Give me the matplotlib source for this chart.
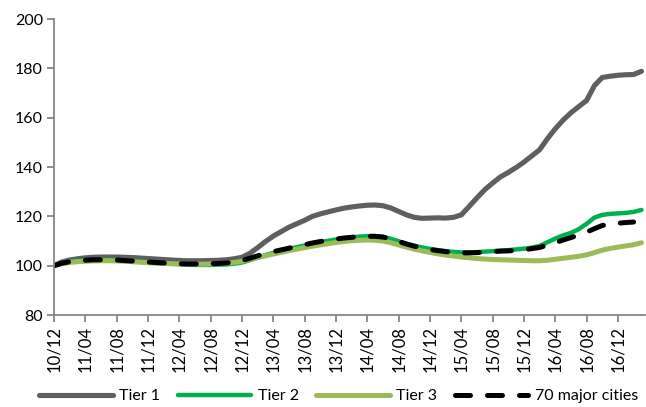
import matplotlib.pyplot as plt

# monthly index values, 2010/12 = 100, running through 2017/03
tier1 = [100.0, 101.5, 102.3, 102.8, 103.2, 103.4, 103.5, 103.5, 103.5, 103.4,
         103.3, 103.1, 102.9, 102.7, 102.5, 102.3, 102.1, 102.0, 102.0, 102.0,
         102.1, 102.2, 102.4, 102.8, 103.4, 105.0, 107.3, 109.8, 112.0, 113.8,
         115.6, 117.0, 118.4, 120.0, 121.0, 121.8, 122.6, 123.3, 123.8, 124.2,
         124.5, 124.6, 124.3, 123.4, 122.0, 120.6, 119.6, 119.2, 119.3, 119.4,
         119.3, 119.6, 120.6, 124.0, 127.5, 130.8, 133.5, 136.0, 137.8, 139.8,
         142.0, 144.5, 147.0, 151.5, 155.5, 159.0, 162.0, 164.5, 167.0, 173.0,
         176.3, 176.8, 177.2, 177.4, 177.5, 178.8]
tier2 = [100.0, 101.0, 101.6, 102.0, 102.2, 102.3, 102.3, 102.3, 102.2, 102.0,
         101.8, 101.6, 101.4, 101.2, 101.0, 100.8, 100.6, 100.4, 100.3, 100.3,
         100.3, 100.4, 100.5, 100.8, 101.3, 102.2, 103.3, 104.3, 105.2, 106.0,
         106.8, 107.5, 108.2, 108.9, 109.5, 110.1, 110.6, 111.1, 111.5, 111.8,
         112.0, 112.0, 111.7, 110.9, 109.9, 108.9, 108.1, 107.4, 106.8, 106.3,
         105.9, 105.6, 105.4, 105.4, 105.5, 105.7, 105.9, 106.1, 106.3, 106.6,
         106.9, 107.3, 108.0, 109.5, 111.0, 112.3, 113.3, 114.8, 117.0, 119.5,
         120.6, 121.0, 121.2, 121.4, 121.8, 122.6]
tier3 = [100.0, 100.8, 101.3, 101.6, 101.8, 101.9, 102.0, 102.0, 101.9, 101.8,
         101.6, 101.4, 101.2, 101.0, 100.9, 100.8, 100.7, 100.6, 100.6, 100.6,
         100.7, 100.8, 101.0, 101.3, 101.8, 102.5, 103.3, 104.0, 104.7, 105.4,
         106.1, 106.7, 107.3, 107.9, 108.4, 108.9, 109.4, 109.8, 110.1, 110.3,
         110.4, 110.3, 110.0, 109.3, 108.4, 107.5, 106.7, 106.0, 105.4, 104.8,
         104.3, 103.9, 103.5, 103.2, 102.9, 102.7, 102.5, 102.4, 102.3, 102.2,
         102.1, 102.0, 102.0, 102.2, 102.6, 103.0, 103.4, 103.8, 104.4, 105.3,
         106.3, 107.0, 107.5, 108.0, 108.5, 109.3]
cities70 = [100.0, 101.0, 101.6, 102.0, 102.2, 102.4, 102.4, 102.4, 102.3, 102.1,
            101.9, 101.7, 101.5, 101.3, 101.1, 100.9, 100.8, 100.7, 100.7, 100.7,
            100.8, 100.9, 101.1, 101.5, 102.1, 103.0, 104.0, 104.9, 105.7, 106.4,
            107.1, 107.8, 108.5, 109.2, 109.8, 110.3, 110.8, 111.2, 111.5, 111.8,
            111.9, 111.9, 111.6, 110.8, 109.8, 108.8, 107.9, 107.2, 106.6, 106.1,
            105.7, 105.4, 105.2, 105.2, 105.3, 105.5, 105.7, 105.9, 106.0, 106.2,
            106.5, 106.9, 107.4, 108.3, 109.3, 110.4, 111.4, 112.4, 113.6, 115.0,
            116.3, 116.9, 117.2, 117.5, 117.7]

tick_labels = ['10/12', '11/04', '11/08', '11/12', '12/04', '12/08', '12/12',
               '13/04', '13/08', '13/12', '14/04', '14/08', '14/12', '15/04',
               '15/08', '15/12', '16/04', '16/08', '16/12']

plt.rcParams['font.family'] = ['Lato', 'DejaVu Sans']
axis_grey = '#868686'

fig = plt.figure(figsize=(6.46, 4.07), dpi=100)
ax = fig.add_axes([0.0836, 0.226, 0.9154, 0.7273])

ax.plot(range(len(tier1)), tier1, color='#5f5f5f', lw=3.7, label='Tier 1',
        solid_capstyle='round')
ax.plot(range(len(tier2)), tier2, color='#00b050', lw=3.2, label='Tier 2',
        solid_capstyle='round')
ax.plot(range(len(tier3)), tier3, color='#9bbb59', lw=3.6, label='Tier 3',
        solid_capstyle='round')
ax.plot(range(len(cities70)), cities70, color='black', lw=3.6,
        dashes=(3.0, 3.4), dash_capstyle='round', label='70 major cities')

ax.set_xlim(0, 75.5)
ax.set_ylim(80, 200)
ax.set_yticks(range(80, 201, 20))
ax.set_xticks(range(0, 4 * len(tick_labels), 4))
ax.set_xticklabels(tick_labels, rotation=90)

for side in ['top', 'right']:
    ax.spines[side].set_visible(False)
for side in ['left', 'bottom']:
    ax.spines[side].set_color(axis_grey)
    ax.spines[side].set_linewidth(1.3)
ax.tick_params(axis='both', colors=axis_grey, length=5, width=1.3,
               labelcolor='black')
ax.tick_params(axis='y', labelsize=11.5, pad=3)
ax.tick_params(axis='x', labelsize=12, pad=3)

fig.legend(loc='center', bbox_to_anchor=(0.524, 0.027), ncol=4, frameon=False,
           fontsize=11.5, handlelength=4.6, handletextpad=0.4,
           columnspacing=1.1)

fig.savefig('out.png', dpi=100)
